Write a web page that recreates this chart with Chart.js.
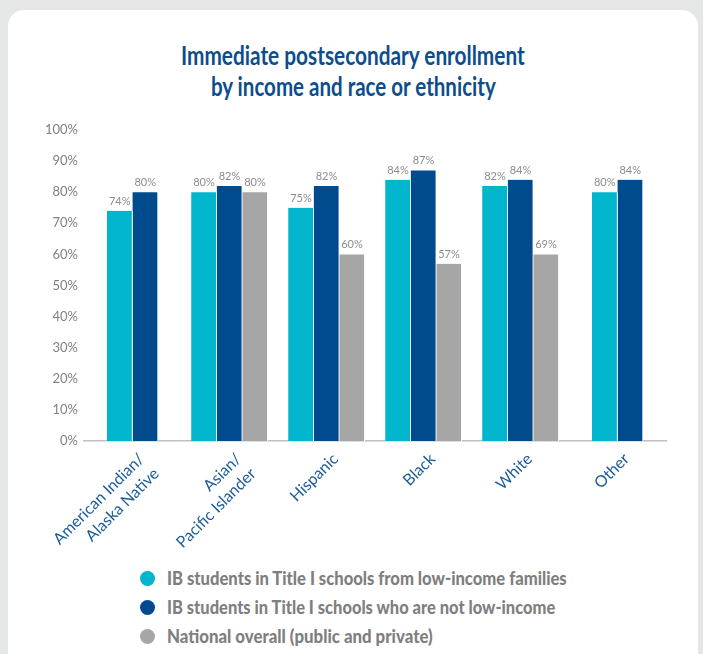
<!DOCTYPE html>
<html>
<head>
<meta charset="utf-8">
<script src="https://cdn.jsdelivr.net/npm/chart.js@4"></script>
<style>
    body { margin: 0; background: #e5e7e6; width: 703px; height: 654px; overflow: hidden; position: relative; }
    .card { position: absolute; left: 8px; top: 10px; width: 690px; height: 700px; background: #fff; border-radius: 16px; }
    .title { position: absolute; left: 0; top: 40px; width: 706px; text-align: center; color: #0d4d8c;
             font: bold 26px Lato, sans-serif; line-height: 31px; }
    .title span, .legend b { display: inline-block; white-space: nowrap; }
    .chartBox { position: absolute; left: 0; top: 110px; width: 703px; height: 450px; }
    .legend { position: absolute; left: 140px; top: 564px; font: bold 18px Lato, sans-serif; color: #7f7f7f; }
    .legend div { height: 29px; line-height: 28px; white-space: nowrap; }
    .legend span { display: inline-block; width: 15px; height: 15px; border-radius: 50%; margin-right: 12px; vertical-align: -1px; }
    .legend b { transform-origin: left center; }
</style>
</head>
<body>
<div class="card"></div>
<div class="title" id="title"></div>
<div class="chartBox"><canvas id="chart"></canvas></div>
<div class="legend" id="legend"></div>
<script>
const titleLines = ["Immediate postsecondary enrollment", "by income and race or ethnicity"];
const categories = [
    ["American Indian/", "Alaska Native"],
    ["Asian/", "Pacific Islander"],
    "Hispanic",
    "Black",
    "White",
    "Other"
];
const seriesNames = [
    "IB students in Title I schools from low-income families",
    "IB students in Title I schools who are not low-income",
    "National overall (public and private)"
];
const lowIncome = [74, 80, 75, 84, 82, 80];
const notLowIncome = [80, 82, 82, 87, 84, 84];
const nationalOverall = [null, 80, 60, 57, 60, null];
// the White national bar is drawn at 60 but labelled 69% in the source
const nationalLabels = [null, "80%", "60%", "57%", "69%", null];
const yTicks = [0, 10, 20, 30, 40, 50, 60, 70, 80, 90, 100];
const colors = ["#00b5cc", "#004b8d", "#a6a6a6"];

const labelFont = "Lato, sans-serif";

const valueLabels = {
    id: "valueLabels",
    afterDatasetsDraw(chart) {
        const ctx = chart.ctx;
        ctx.save();
        ctx.font = "11px " + labelFont;
        ctx.fillStyle = "#8c8c8c";
        ctx.textAlign = "center";
        ctx.textBaseline = "bottom";
        chart.data.datasets.forEach((ds, i) => {
            chart.getDatasetMeta(i).data.forEach((bar, j) => {
                if (ds.data[j] === null) return;
                const text = ds.labelTexts ? ds.labelTexts[j] : ds.data[j] + "%";
                ctx.fillText(text, bar.x, bar.y - 4);
            });
        });
        ctx.restore();
    }
};

const seriesData = [lowIncome, notLowIncome, nationalOverall];

new Chart(document.getElementById("chart"), {
    type: "bar",
    data: {
        labels: categories,
        datasets: seriesData.map((d, i) => ({
            label: seriesNames[i],
            data: d,
            backgroundColor: colors[i],
            borderColor: "#ffffff",
            borderWidth: { right: 1, left: 0, top: 0, bottom: 0 },
            borderSkipped: false,
            barThickness: 25.5,
            skipNull: true,
            labelTexts: i === 2 ? nationalLabels : null
        }))
    },
    options: {
        responsive: true,
        maintainAspectRatio: false,
        animation: false,
        layout: { padding: { top: 20, right: 37, left: 0, bottom: 0 } },
        plugins: {
            legend: { display: false },
            tooltip: { enabled: false }
        },
        scales: {
            x: {
                grid: { display: false, drawTicks: false },
                border: { display: true, color: "#bfbfbf", width: 1.5 },
                ticks: {
                    maxRotation: 45, minRotation: 45,
                    labelOffset: 9,
                    padding: 8,
                    color: "#1b5b9b",
                    font: { family: labelFont, size: 16, lineHeight: 1.3 }
                },
                afterFit: s => { s.height = 119; }
            },
            y: {
                min: 0, max: 100,
                afterBuildTicks: s => { s.ticks = yTicks.map(v => ({ value: v })); },
                grid: { display: false, drawTicks: false },
                border: { display: false },
                ticks: {
                    padding: 6,
                    color: "#808080",
                    font: { family: labelFont, size: 13 },
                    callback: v => v + "%"
                },
                afterFit: s => { s.width = 84; }
            }
        }
    },
    plugins: [valueLabels]
});

// squeeze a text box to a given width, to stand in for the condensed face of the original
function squeeze(el, width) {
    el.style.transform = "scaleX(" + (width / el.offsetWidth) + ")";
}

const title = document.getElementById("title");
const titleWidths = [344, 285];
titleLines.forEach((t, i) => {
    const line = document.createElement("span");
    line.textContent = t;
    title.appendChild(line);
    title.appendChild(document.createElement("br"));
    squeeze(line, titleWidths[i]);
});

const legend = document.getElementById("legend");
const legendWidths = [400, 388, 266];
seriesNames.forEach((name, i) => {
    const row = document.createElement("div");
    const dot = document.createElement("span");
    dot.style.background = colors[i];
    const text = document.createElement("b");
    text.textContent = name;
    row.appendChild(dot);
    row.appendChild(text);
    legend.appendChild(row);
    squeeze(text, legendWidths[i]);
});
</script>
</body>
</html>
